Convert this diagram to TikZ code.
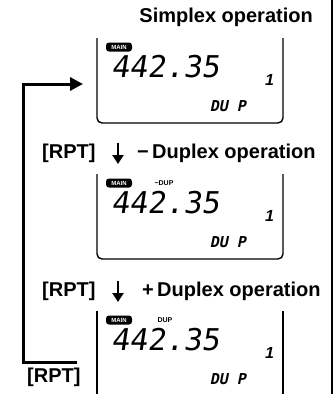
\documentclass[tikz,border=0pt]{standalone}
\usepackage{fontspec}
\setmainfont{Liberation Sans}
\newfontfamily\segfont{DejaVu Sans Mono}
\usetikzlibrary{arrows.meta}
\begin{document}
\begin{tikzpicture}[x=1pt,y=-1pt,
  lbl/.style={font=\bfseries\fontsize{20}{20}\selectfont,inner sep=0pt},
  frame/.style={draw=black,line width=1.4pt,rounded corners=5pt},
  digits/.style={font=\segfont\fontsize{30}{30}\selectfont,xslant=0.15,inner sep=0pt},
  dupseg/.style={font=\segfont\bfseries\fontsize{15}{15}\selectfont,xslant=0.2,inner sep=0pt},
  onedig/.style={font=\bfseries\fontsize{16}{16}\selectfont,xslant=0.2,inner sep=0pt},
  badge/.style={fill=black,text=white,rounded corners=3pt,font=\bfseries\fontsize{6}{6}\selectfont,inner xsep=1.5pt,inner ysep=1pt,minimum width=26pt,minimum height=9pt},
  tiny/.style={font=\bfseries\fontsize{7}{7}\selectfont,inner sep=0pt},
  loopline/.style={line width=3pt,line join=miter},
  downarrow/.style={line width=2.8pt,-{Triangle[length=9pt,width=11pt]}}
]
\useasboundingbox (0,0) rectangle (334,394);
% right border
\draw[line width=2.5pt] (332,0) -- (332,394);

% headings
\node[lbl,anchor=east] (simplex) at (313,17) {Simplex operation};
\node[lbl,anchor=west] (rpt1) at (42,153) {[RPT]};
\coordinate (a1s) at (118,143); \coordinate (a1e) at (118,164);
\draw[downarrow] (a1s) -- (a1e);
\node[lbl,anchor=west] (minus) at (137,153) {−\,Duplex operation};
\node[lbl,anchor=west] (rpt2) at (42,291) {[RPT]};
\coordinate (a2s) at (118,281); \coordinate (a2e) at (118,302);
\draw[downarrow] (a2s) -- (a2e);
\node[lbl,anchor=west] (plus) at (142,291) {+\,Duplex operation};
\node[lbl,anchor=west] (rpt3) at (27,377) {[RPT]};

% loop arrow
\coordinate (lb) at (77,362);
\coordinate (lc) at (23,362);
\coordinate (lt) at (23,84);
\coordinate (tip) at (83,84);
\draw[loopline,-{Triangle[length=13pt,width=13pt]}] (lb) -- (lc) -- (lt) -- (tip);

% display 1
\draw[frame] (97,38) -- (97,123) -- (283,123) -- (283,38);
\node[badge] (m1) at (119,47) {MAIN};
\node[digits] (d1) at (167,67) {442.35};
\node[onedig] (o1) at (270,80) {1};
\node[dupseg] (u1) at (229,106) {DU P};

% display 2
\draw[frame] (97,174) -- (97,259) -- (283,259) -- (283,174);
\node[badge] (m2) at (119,183) {MAIN};
\node[tiny] (t2) at (164,183) {−DUP};
\node[digits] (d2) at (167,203) {442.35};
\node[onedig] (o2) at (270,216) {1};
\node[dupseg] (u2) at (229,242) {DU P};

% display 3
\draw[frame] (97,311) -- (97,395);
\draw[frame] (283,311) -- (283,395);
\node[badge] (m3) at (119,320) {MAIN};
\node[tiny] (t3) at (165,320) {DUP};
\node[digits] (d3) at (167,340) {442.35};
\node[onedig] (o3) at (270,353) {1};
\node[dupseg] (u3) at (229,379) {DU P};
\end{tikzpicture}
\end{document}
